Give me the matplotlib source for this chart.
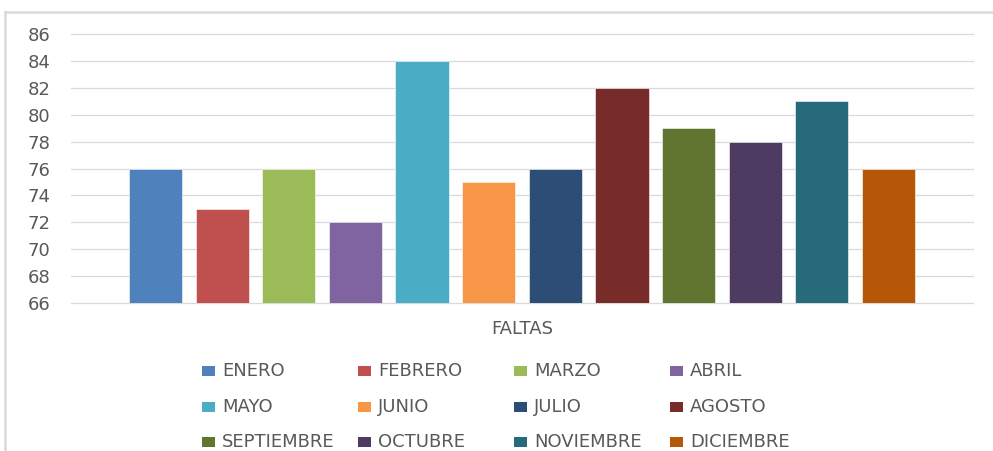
import matplotlib
matplotlib.use("Agg")
import matplotlib.pyplot as plt
from matplotlib.patches import Rectangle
from matplotlib.lines import Line2D

months = ["ENERO", "FEBRERO", "MARZO", "ABRIL", "MAYO", "JUNIO", "JULIO",
          "AGOSTO", "SEPTIEMBRE", "OCTUBRE", "NOVIEMBRE", "DICIEMBRE"]
values = [76, 73, 76, 72, 84, 75, 76, 82, 79, 78, 81, 76]
colors = ["#4F81BD", "#C0504D", "#9BBB59", "#8064A2", "#4BACC6", "#F79646",
          "#2C4D75", "#772C2A", "#5F7530", "#4D3B62", "#276A7C", "#B65708"]
yticks = list(range(66, 87, 2))
category = "FALTAS"

W, H = 993, 451
fig = plt.figure(figsize=(W / 100, H / 100), dpi=100)
plt.rcParams['font.family'] = ['DejaVu Sans']
txt = "#595959"
grid = "#d9d9d9"
fs = 13

ax = fig.add_axes([71 / W, 1 - 303 / H, (973 - 71) / W, (303 - 34) / H])
x = list(range(len(values)))
ax.bar(x, [v - 66 for v in values], bottom=66, width=0.8, color=colors,
       edgecolor="white", linewidth=0.4, zorder=3)
ax.set_xlim(-1.27, len(values) - 1 + 1.27)
ax.set_ylim(66, 86)
ax.set_yticks(yticks)
ax.set_yticklabels([str(t) for t in yticks], fontsize=fs, color=txt)
ax.tick_params(axis="y", length=0, pad=15)
ax.set_xticks([])
for s in ax.spines.values():
    s.set_visible(False)
for t in yticks:
    ax.axhline(t, color=grid, linewidth=0.9, zorder=1, clip_on=False)

fig.text(522 / W, 1 - 329 / H, category, ha="center", va="center",
         fontsize=fs, color=txt)

# legend, row-wise 4 columns
col_x = [202, 358, 514, 670]
row_y = [371, 407, 442]
for i, (m, c) in enumerate(zip(months, colors)):
    r, k = divmod(i, 4)
    x0 = col_x[k]
    yc = row_y[r]
    fig.add_artist(Rectangle((x0 / W, 1 - (yc + 5) / H), 13 / W, 10 / H,
                             transform=fig.transFigure, facecolor=c,
                             edgecolor="none"))
    fig.text((x0 + 20) / W, 1 - yc / H, m, ha="left", va="center",
             fontsize=fs, color=txt)

# chart border (top and left visible)
fig.add_artist(Line2D([5 / W, 1], [1 - 12 / H, 1 - 12 / H],
                      transform=fig.transFigure, color=grid, linewidth=1.8))
fig.add_artist(Line2D([5 / W, 5 / W], [0, 1 - 12 / H],
                      transform=fig.transFigure, color=grid, linewidth=1.8))

fig.savefig("out.png", dpi=100)
